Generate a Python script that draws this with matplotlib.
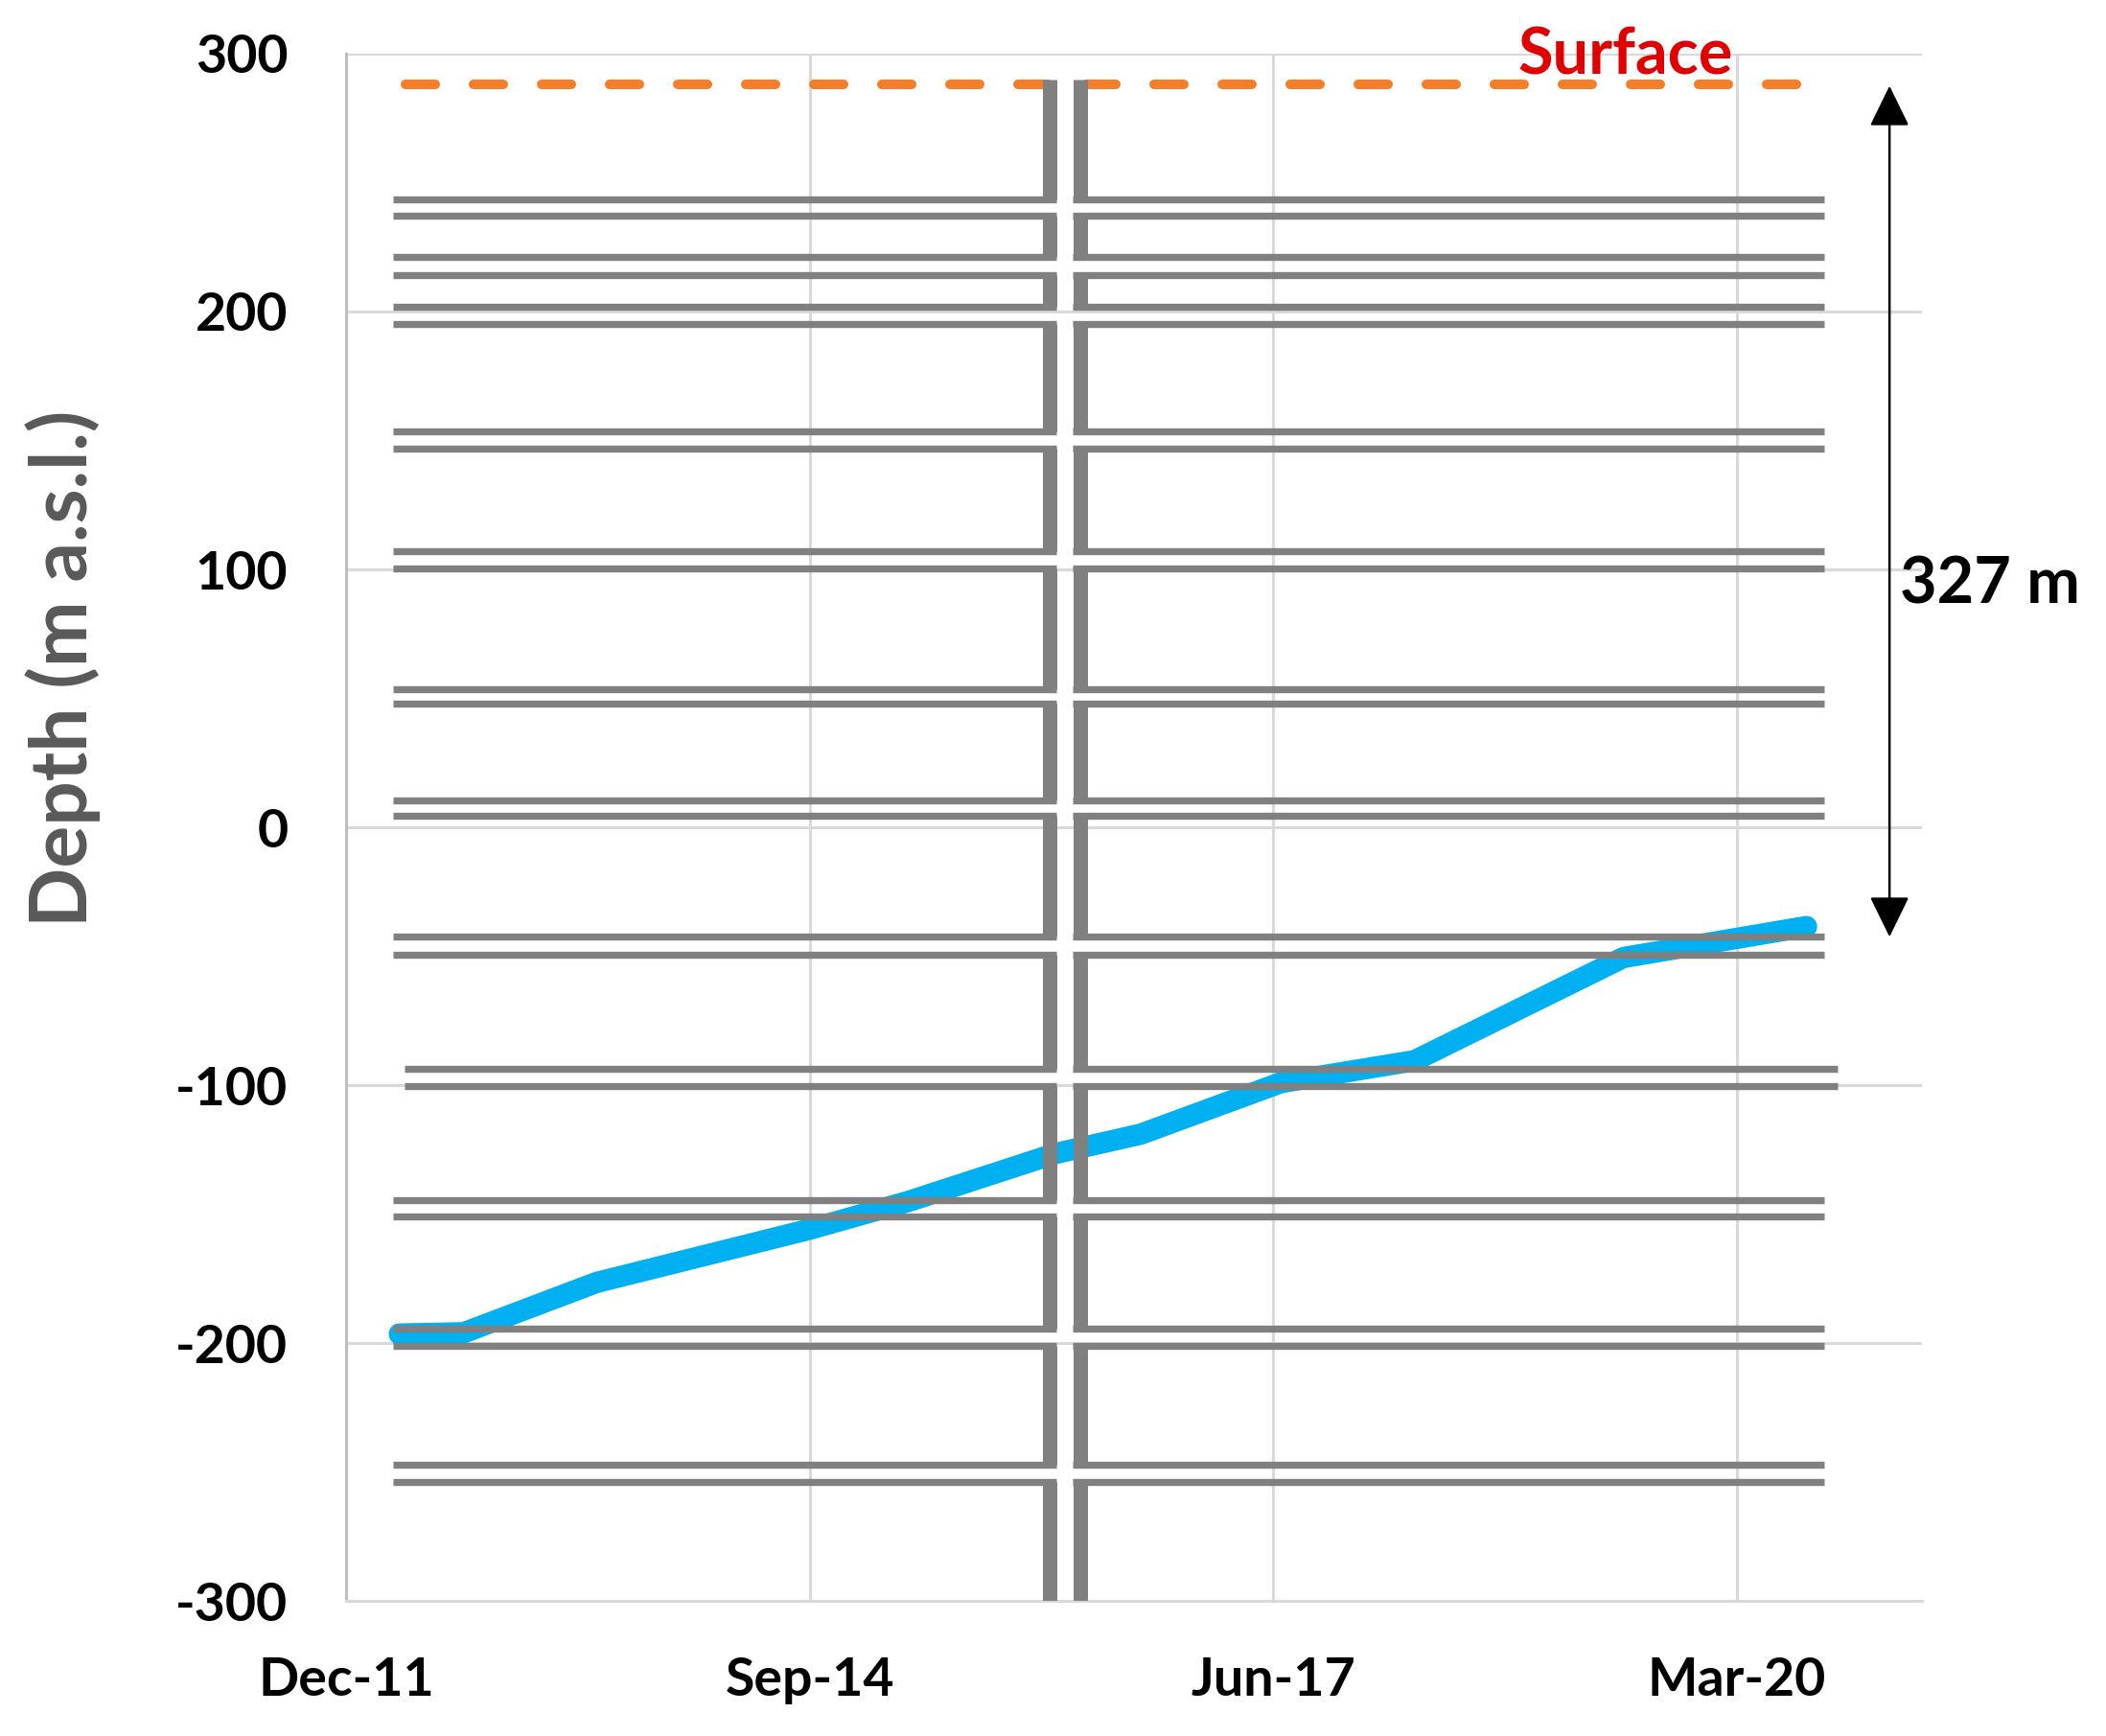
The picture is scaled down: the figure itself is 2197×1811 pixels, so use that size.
import numpy as np
import pandas as pd
import matplotlib
matplotlib.use("Agg")
import matplotlib.pyplot as plt
import matplotlib.dates as mdates

# mine levels: each drift is a pair of lines (top / bottom wall), m a.s.l.
level_top = [243.5, 221, 202, 153.5, 107, 53.5, 10.5, -42.5, -93.5, -144.5, -194.5, -247]
level_bottom = [237, 214, 195, 147, 100.5, 48, 4.5, -49.5, -100.5, -151, -201, -254]
drift_start = ["2012-04-01"] * 8 + ["2012-04-26"] + ["2012-04-01"] * 3
drift_end = ["2020-09-14"] * 8 + ["2020-10-14"] + ["2020-09-14"] * 3

# shaft walls (x position as dates) and top of shaft
shaft_left = "2016-02-17"
shaft_right = "2016-04-23"
shaft_top = 290

# ground surface
surface_level = 288
surface_start = "2012-04-28"
surface_end = "2020-07-18"

# water level in the mine
wl_dates = ["2012-04-15", "2012-09-01", "2013-06-15", "2014-09-15", "2015-04-20",
            "2016-03-01", "2016-09-01", "2017-07-01", "2018-04-15", "2019-07-10",
            "2020-08-08"]
wl_depth = [-196.5, -196, -176.5, -156, -145, -126.5, -119, -99, -90.5, -50.5, -38.5]

# arrow for the 327 m rise
arrow_date = "2021-02-03"
arrow_top = 287.5
arrow_bottom = -42.5

gray = "#808080"
plt.rcParams["font.family"] = ["Lato", "DejaVu Sans"]
plt.rcParams["font.weight"] = "bold"
plt.rcParams["axes.unicode_minus"] = False

d = lambda s: mdates.date2num(pd.to_datetime(s))

fig = plt.figure(figsize=(21.97, 18.11), dpi=100)
ax = fig.add_axes([0.1645, 0.0778, 0.7481, 0.8913])

x0 = pd.Timestamp("2011-12-23")
ticks = pd.date_range(x0, periods=4, freq="1000D")
ax.set_xlim(d(x0), d(x0 + pd.Timedelta(days=3400)))
ax.set_ylim(-300, 300)
ax.set_yticks(range(-300, 301, 100))
ax.set_xticks(d(ticks))
ax.xaxis.set_major_formatter(mdates.DateFormatter("%b-%y"))

ax.grid(color="#D9D9D9", lw=2.2)
ax.set_axisbelow(True)
for s in ["top", "right"]:
    ax.spines[s].set_visible(False)
ax.spines["left"].set_color("#BFBFBF")
ax.spines["left"].set_linewidth(2.2)
ax.spines["bottom"].set_color("#D9D9D9")
ax.spines["bottom"].set_linewidth(2.2)
ax.tick_params(length=0, labelsize=40)
ax.tick_params(axis="y", pad=44)
ax.tick_params(axis="x", pad=42)

# surface
ax.plot([d(surface_start), d(surface_end)], [surface_level] * 2, color="#F57F28",
        lw=7.2, dashes=(3.1, 4.0), dash_capstyle="round", zorder=2)

# water level
ax.plot(d(wl_dates), wl_depth, color="#00B0F0", lw=16,
        solid_capstyle="round", solid_joinstyle="round", zorder=3)

# shaft walls
wall_w = 10.8
half = 15.5  # half wall width in days
xl, xr = d(shaft_left), d(shaft_right)
tops = [shaft_top] + level_bottom
bots = level_top + [-300]
for y1, y2 in zip(tops, bots):
    for x in (xl, xr):
        ax.plot([x, x], [y1, y2], color=gray, lw=wall_w, solid_capstyle="butt", zorder=4)

# drifts
for t, b, s, e in zip(level_top, level_bottom, drift_start, drift_end):
    for y in (t, b):
        ax.plot([d(s), xl + half], [y, y], color=gray, lw=5.3, solid_capstyle="butt", zorder=4)
        ax.plot([xr - half, d(e)], [y, y], color=gray, lw=5.3, solid_capstyle="butt", zorder=4)

ax.text(d("2019-07-15"), 292.0, "Surface", color="#E00000", fontsize=48,
        fontweight="bold", ha="center", va="baseline", zorder=5)

ax.annotate("", xy=(d(arrow_date), arrow_bottom), xytext=(d(arrow_date), arrow_top),
            arrowprops=dict(arrowstyle="<|-|>,head_length=1.33,head_width=0.65",
                            mutation_scale=20, color="black", lw=1.8,
                            shrinkA=0, shrinkB=0),
            annotation_clip=False)
ax.text(d("2021-02-25"), 94, "327 m", fontsize=48, fontweight="bold",
        ha="left", va="center")

fig.text(66 / 2197, 1 - 697 / 1811, "Depth (m a.s.l.)", rotation=90, fontsize=59,
         fontweight="bold", color="#595959", ha="center", va="center")

fig.savefig("out.png", dpi=100)
